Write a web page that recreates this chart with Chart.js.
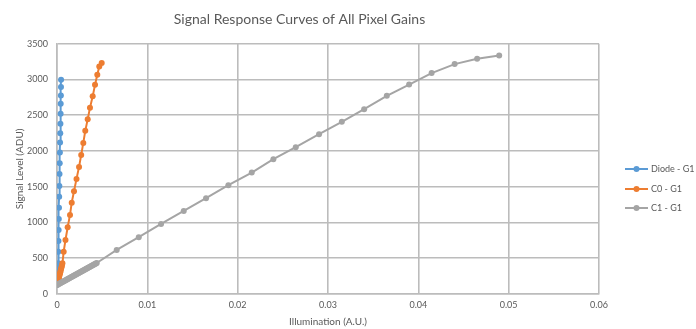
<!DOCTYPE html>
<html>
<head>
<meta charset="utf-8">
<script src="https://cdn.jsdelivr.net/npm/chart.js@4.4.1/dist/chart.umd.min.js"></script>
<style>
  html, body { margin: 0; padding: 0; background: #ffffff; }
</style>
</head>
<body>
<canvas id="chart" width="696" height="329"></canvas>
<script>
// Series data (illumination in A.U., signal in ADU)
const diodeX = [0.00001, 0.00002, 0.00003, 0.00004, 0.00005, 0.00006, 0.00007, 0.00008, 0.00009, 0.0001,
                0.00011, 0.00012, 0.00013, 0.00014, 0.00016, 0.00018, 0.00020, 0.00022, 0.00024, 0.00026,
                0.00028, 0.00030, 0.00032, 0.00034, 0.00036, 0.00038, 0.00040, 0.00041, 0.00043, 0.00044, 0.00045];
const diodeY = [130, 150, 170, 190, 210, 230, 250, 270, 290, 310,
                340, 380, 430, 592, 742, 896, 1050, 1208, 1362, 1512,
                1680, 1830, 1978, 2118, 2250, 2380, 2520, 2660, 2776, 2894, 2996];

const c0X = [0.00002, 0.00005, 0.00008, 0.00011, 0.00014, 0.00017, 0.00020, 0.00024, 0.00028, 0.00032,
             0.00036, 0.00040, 0.00045, 0.00050, 0.00055, 0.00060, 0.00074, 0.00094, 0.00118, 0.00144,
             0.00163, 0.00188, 0.00216, 0.00244, 0.00268, 0.00291, 0.00313, 0.00340, 0.00365, 0.00395,
             0.00421, 0.00446, 0.00468, 0.00495];
const c0Y = [135, 150, 165, 180, 195, 210, 225, 245, 265, 285,
             305, 325, 350, 375, 400, 430, 592, 756, 934, 1106,
             1278, 1438, 1610, 1778, 1946, 2114, 2282, 2446, 2604, 2765,
             2926, 3066, 3182, 3230];

const c1X = [0.00002, 0.0001, 0.0002, 0.0003, 0.0004, 0.0005, 0.0006, 0.0007, 0.0008, 0.0009,
             0.0010, 0.0011, 0.0012, 0.0013, 0.0014, 0.0015, 0.0016, 0.0017, 0.0018, 0.0019,
             0.0020, 0.0021, 0.0022, 0.0023, 0.0024, 0.0025, 0.0026, 0.0027, 0.0028, 0.0029,
             0.0030, 0.0031, 0.0032, 0.0033, 0.0034, 0.0035, 0.0036, 0.0037, 0.0038, 0.0039,
             0.0040, 0.0041, 0.0042, 0.0043, 0.0044, 0.00661, 0.00905, 0.01152, 0.01403, 0.0165,
             0.01897, 0.02156, 0.02395, 0.02643, 0.02901, 0.03153, 0.034, 0.03651, 0.03898, 0.04147,
             0.04402, 0.04651, 0.04895];
const c1Y = [126, 133, 140, 147, 154, 161, 168, 175, 182, 189,
             196, 203, 210, 217, 224, 231, 238, 245, 252, 259,
             266, 273, 280, 287, 294, 301, 308, 315, 322, 329,
             336, 343, 350, 357, 364, 371, 378, 385, 392, 399,
             406, 413, 420, 427, 434, 616, 794, 980, 1162, 1340,
             1522, 1698, 1886, 2054, 2236, 2408, 2586, 2772, 2930, 3090,
             3216, 3290, 3336];

const seriesNames = ['Diode - G1', 'C0 - G1', 'C1 - G1'];
const seriesColors = ['#5B9BD5', '#ED7D31', '#A5A5A5'];
const xTicks = [0, 0.01, 0.02, 0.03, 0.04, 0.05, 0.06];
const yTicks = [0, 500, 1000, 1500, 2000, 2500, 3000, 3500];

const gridColor = '#bcbcbc';
const textColor = '#595959';
const fontFamily = 'Lato, "Open Sans", sans-serif';

function toPoints(xs, ys) {
    return xs.map((x, i) => ({ x: x, y: ys[i] }));
}

// Legend drawn by hand so it can sit where Excel put it
const sideLegend = {
    id: 'sideLegend',
    afterDraw(chart) {
        const ctx = chart.ctx;
        const rowY = [169, 189, 208];
        ctx.save();
        chart.data.datasets.forEach((ds, i) => {
            const y = rowY[i];
            ctx.strokeStyle = ds.borderColor;
            ctx.lineWidth = 2;
            ctx.beginPath();
            ctx.moveTo(625, y);
            ctx.lineTo(648, y);
            ctx.stroke();
            ctx.fillStyle = ds.borderColor;
            ctx.beginPath();
            ctx.arc(636.5, y, 3, 0, Math.PI * 2);
            ctx.fill();
            ctx.fillStyle = textColor;
            ctx.font = '9px ' + fontFamily;
            ctx.textBaseline = 'middle';
            ctx.textAlign = 'left';
            ctx.fillText(ds.label, 651, y);
        });
        ctx.restore();
    }
};

const datasets = [
    toPoints(diodeX, diodeY),
    toPoints(c0X, c0Y),
    toPoints(c1X, c1Y)
].map((pts, i) => ({
    label: seriesNames[i],
    data: pts,
    borderColor: seriesColors[i],
    backgroundColor: seriesColors[i],
    borderWidth: 2,
    pointRadius: 3,
    pointBorderWidth: 0,
    pointHoverRadius: 3,
    showLine: true,
    order: 3 - i
}));

new Chart(document.getElementById('chart'), {
    type: 'scatter',
    data: { datasets: datasets },
    options: {
        responsive: false,
        animation: false,
        layout: { padding: { left: 0, right: 97, top: 0, bottom: 0 } },
        plugins: {
            legend: { display: false },
            tooltip: { enabled: false },
            title: {
                display: true,
                text: 'Signal Response Curves of All Pixel Gains',
                color: textColor,
                font: { family: fontFamily, size: 14, weight: 'normal' },
                padding: { top: 11, bottom: 16 }
            }
        },
        scales: {
            x: {
                type: 'linear',
                min: 0,
                max: 0.06,
                afterBuildTicks: (scale) => { scale.ticks = xTicks.map(v => ({ value: v })); },
                afterFit: (scale) => { scale.height = 35; },
                ticks: {
                    color: textColor,
                    font: { family: fontFamily, size: 9 },
                    padding: 6,
                    callback: (v) => v === 0 ? '0' : v.toFixed(2)
                },
                grid: { color: gridColor, lineWidth: 1.6, drawTicks: false },
                border: { color: gridColor, width: 1.6 },
                title: {
                    display: true,
                    text: 'Illumination (A.U.)',
                    color: textColor,
                    font: { family: fontFamily, size: 10 },
                    padding: { top: 0, bottom: 1 }
                }
            },
            y: {
                min: 0,
                max: 3500,
                afterBuildTicks: (scale) => { scale.ticks = yTicks.map(v => ({ value: v })); },
                afterFit: (scale) => { scale.width = 57; },
                ticks: {
                    color: textColor,
                    font: { family: fontFamily, size: 9 },
                    padding: 9,
                    callback: (v) => String(v)
                },
                grid: { color: gridColor, lineWidth: 1.6, drawTicks: false },
                border: { color: gridColor, width: 1.6 },
                title: {
                    display: true,
                    text: 'Signal Level (ADU)',
                    color: textColor,
                    font: { family: fontFamily, size: 10 },
                    padding: { top: 14, bottom: 0 }
                }
            }
        }
    },
    plugins: [sideLegend]
});
</script>
</body>
</html>
